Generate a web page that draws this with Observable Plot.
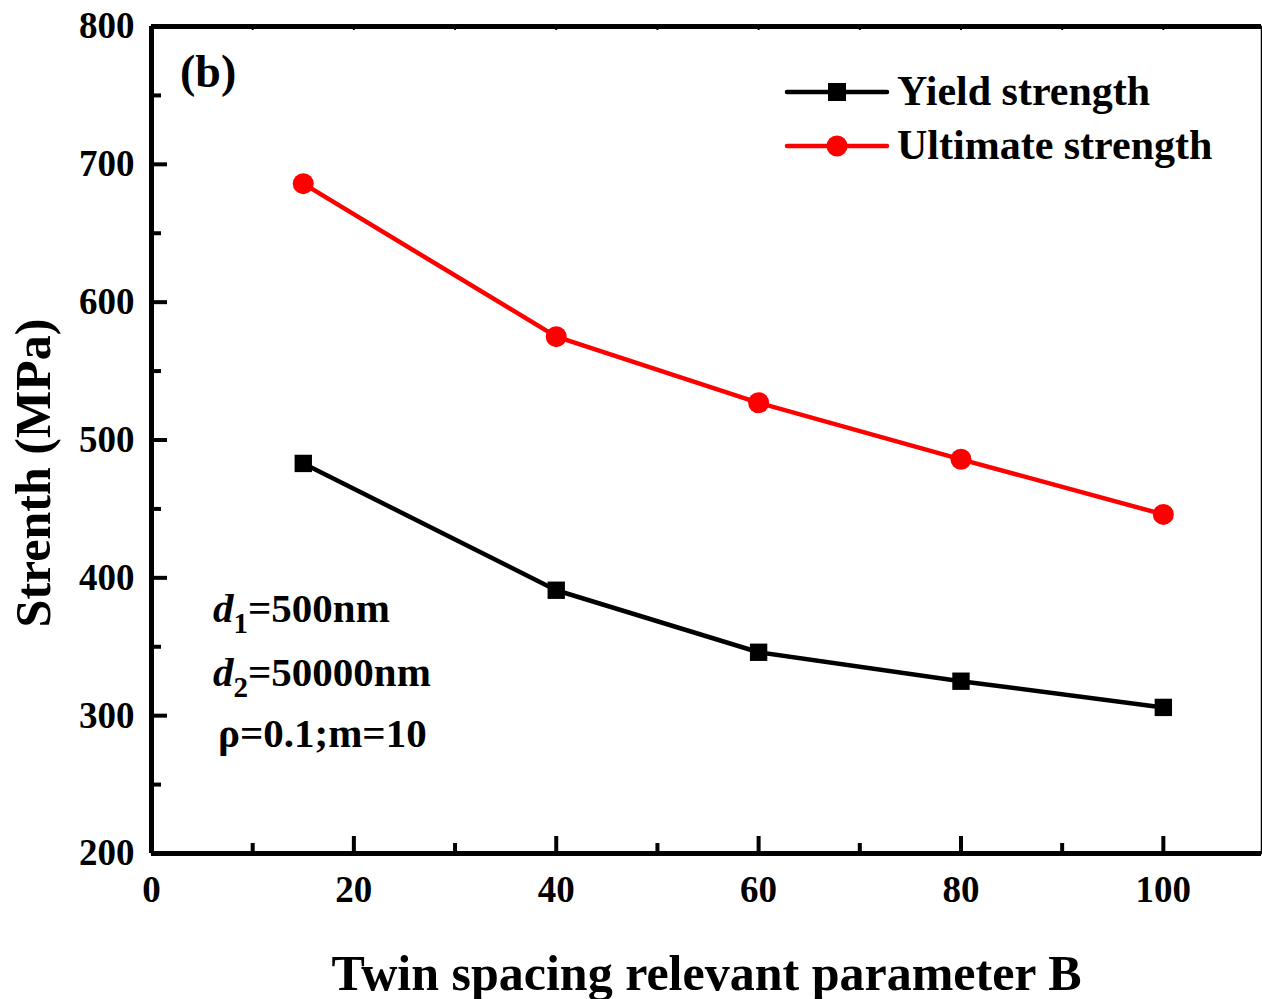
<!DOCTYPE html>
<html><head><meta charset="utf-8">
<script src="https://cdn.jsdelivr.net/npm/d3@7"></script>
<script src="https://cdn.jsdelivr.net/npm/@observablehq/plot@0.6"></script>
<style>
body{margin:0;background:#fff}
svg{font-family:"Liberation Serif","Times New Roman",serif;font-weight:bold}
</style>
</head><body><div id="chart"></div>
<script>
// ---- data ----
const B = [15, 40, 60, 80, 100];
const yieldStrength = [483, 391, 346, 325, 306];
const ultimateStrength = [686, 575, 527, 486, 446];
const seriesNames = ["Yield strength", "Ultimate strength"];
const seriesColors = ["#000000", "#ff0000"];
const seriesSymbols = ["square", "circle"];
const xMajor = [0, 20, 40, 60, 80, 100];
const xMinor = [10, 30, 50, 70, 90];
const yMajor = [200, 300, 400, 500, 600, 700, 800];
const yMinor = [250, 350, 450, 550, 650, 750];
const xTitle = "Twin spacing relevant parameter B";
const yTitle = "Strenth (MPa)";
const panelLabel = "(b)";
const noteLines = [
  {sym: "d", sub: "1", rest: "=500nm"},
  {sym: "d", sub: "2", rest: "=50000nm"},
  {sym: "", sub: "", rest: "ρ=0.1;m=10"}
];

const yieldRows = B.map((b, i) => ({B: b, value: yieldStrength[i], series: seriesNames[0]}));
const ultimateRows = B.map((b, i) => ({B: b, value: ultimateStrength[i], series: seriesNames[1]}));
const font = '"Liberation Serif","Times New Roman",serif';

const chart = Plot.plot({
  width: 1262, height: 999,
  marginLeft: 151, marginRight: 1, marginTop: 26, marginBottom: 146,
  x: {domain: [0, 109.7]},
  y: {domain: [200, 800]},
  style: {fontFamily: font, fontWeight: "bold", background: "white", color: "black"},
  marks: [
    Plot.frame({stroke: "black", strokeWidth: 1.5}),
    Plot.ruleX([0], {stroke: "black", strokeWidth: 5}),
    Plot.ruleY([200], {stroke: "black", strokeWidth: 5}),
    Plot.ruleY([800], {stroke: "black", strokeWidth: 5}),
    // ticks (inward)
    Plot.axisX(xMajor, {anchor: "bottom", tickSize: -17, fill: "none", strokeWidth: 4, label: null}),
    Plot.axisX(xMinor, {anchor: "bottom", tickSize: -10, fill: "none", strokeWidth: 4, label: null}),
    Plot.axisX([...xMajor, ...xMinor], {anchor: "top", tickSize: -3, fill: "none", strokeWidth: 2, label: null}),
    Plot.axisY(yMajor, {anchor: "left", tickSize: -16, fill: "none", strokeWidth: 4, label: null}),
    Plot.axisY(yMinor, {anchor: "left", tickSize: -10, fill: "none", strokeWidth: 4, label: null}),
    // tick labels
    Plot.axisX(xMajor, {anchor: "bottom", tickSize: 0, tickPadding: 22, fontSize: 37, label: null}),
    Plot.axisY(yMajor, {anchor: "left", tickSize: 0, tickPadding: 17, fontSize: 37, label: null}),
    // x axis title
    Plot.text([xTitle], {frameAnchor: "bottom", dy: 136, lineAnchor: "bottom", fontSize: 50, fontWeight: "bold"}),
    // data
    Plot.line(yieldRows, {x: "B", y: "value", stroke: seriesColors[0], strokeWidth: 4.5}),
    Plot.line(ultimateRows, {x: "B", y: "value", stroke: seriesColors[1], strokeWidth: 4.5}),
    Plot.dot(yieldRows, {x: "B", y: "value", fill: seriesColors[0], stroke: "none", symbol: seriesSymbols[0], r: 9.8}),
    Plot.dot(ultimateRows, {x: "B", y: "value", fill: seriesColors[1], stroke: "none", symbol: seriesSymbols[1], r: 10.5})
  ]
});
document.getElementById("chart").appendChild(chart);

// ---- titles, annotations & legend ----
const svg = d3.select(chart);
svg.append("text").attr("transform", "translate(50,473) rotate(-90)")
  .attr("text-anchor", "middle").attr("font-size", 50).attr("font-weight", "bold")
  .attr("font-family", font).text(yTitle);

svg.append("text").attr("x", 180).attr("y", 87).attr("font-size", 46).attr("text-anchor", "start")
  .attr("font-weight", "bold").attr("font-family", font).text(panelLabel);

const baselines = [622, 686, 747];
noteLines.forEach((n, i) => {
  const t = svg.append("text").attr("x", n.sym ? 213 : 218).attr("y", baselines[i])
    .attr("text-anchor", "start")
    .attr("font-size", 41).attr("font-weight", "bold").attr("font-family", font);
  if (n.sym) {
    t.append("tspan").attr("font-style", "italic").text(n.sym);
    t.append("tspan").attr("font-size", 29).attr("dy", 11).text(n.sub);
    t.append("tspan").attr("dy", -11).text(n.rest);
  } else {
    t.text(n.rest);
  }
});

const legendY = [92, 146];
seriesNames.forEach((name, i) => {
  const g = svg.append("g");
  g.append("line").attr("x1", 787).attr("x2", 887).attr("y1", legendY[i]).attr("y2", legendY[i])
    .attr("stroke", seriesColors[i]).attr("stroke-width", 4.5).attr("stroke-linecap", "round");
  if (seriesSymbols[i] === "square") {
    g.append("rect").attr("x", 828).attr("y", legendY[i] - 9).attr("width", 18).attr("height", 18)
      .attr("fill", seriesColors[i]);
  } else {
    g.append("circle").attr("cx", 837).attr("cy", legendY[i]).attr("r", 10.5).attr("fill", seriesColors[i]);
  }
  g.append("text").attr("x", 897).attr("y", legendY[i] + 13).attr("font-size", 42)
    .attr("text-anchor", "start")
    .attr("font-weight", "bold").attr("font-family", font).text(name);
});
</script>
</body></html>
